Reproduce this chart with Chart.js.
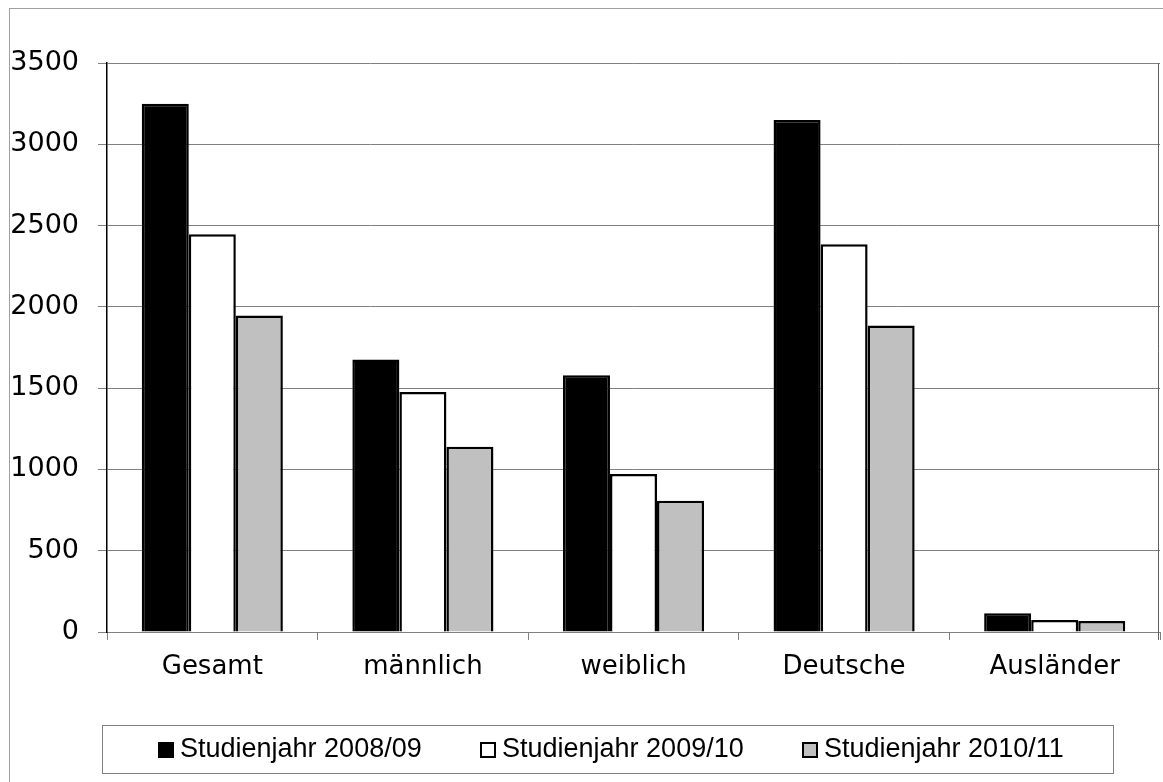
<!DOCTYPE html>
<html>
<head>
<meta charset="utf-8">
<script src="https://cdn.jsdelivr.net/npm/chart.js@4"></script>
<style>
  body { margin: 0; background: #fff; overflow: hidden; }
  #wrap { position: relative; width: 1163px; height: 782px; }
</style>
</head>
<body>
<div id="wrap"><canvas id="chart"></canvas></div>
<script>
const categories = ['Gesamt', 'männlich', 'weiblich', 'Deutsche', 'Ausländer'];
const seriesLabels = ['Studienjahr 2008/09', 'Studienjahr 2009/10', 'Studienjahr 2010/11'];
const v0809 = [3250, 1676, 1579, 3149, 115];
const v0910 = [2446, 1477, 972, 2385, 74];
const v1011 = [1947, 1140, 807, 1885, 68];
const yTicks = [0, 500, 1000, 1500, 2000, 2500, 3000, 3500];
const fills = ['#000000', '#ffffff', '#c0c0c0'];

// outer frame, right plot border and boxed legend
const framePlugin = {
  id: 'frame',
  afterDraw(chart) {
    const ctx = chart.ctx;
    const a = chart.chartArea;
    ctx.save();
    ctx.strokeStyle = '#a0a0a0';
    ctx.lineWidth = 1;
    ctx.strokeRect(9.5, 8.5, 2000, 2000);

    // right edge of the plot area
    const rx = Math.floor(a.right) - 1.5;
    ctx.strokeStyle = '#606060';
    ctx.lineWidth = 1;
    ctx.beginPath();
    ctx.moveTo(rx, a.top);
    ctx.lineTo(rx, a.bottom + 8);
    ctx.stroke();

    // legend box
    ctx.strokeStyle = '#808080';
    ctx.strokeRect(102.5, 725.5, 1011, 48);
    ctx.font = '27px "Liberation Sans"';
    ctx.textBaseline = 'middle';
    const starts = [158, 480, 802];
    chart.data.datasets.forEach((ds, i) => {
      const x = starts[i];
      ctx.fillStyle = ds.backgroundColor;
      ctx.fillRect(x, 742, 16, 16);
      ctx.strokeStyle = '#000';
      ctx.lineWidth = 2;
      ctx.strokeRect(x + 1, 743, 14, 14);
      ctx.fillStyle = '#000';
      ctx.fillText(ds.label, x + 22, 750);
    });
    ctx.restore();
  }
};

new Chart(document.getElementById('chart'), {
  type: 'bar',
  data: {
    labels: categories,
    datasets: [
      { label: seriesLabels[0], data: v0809, backgroundColor: fills[0] },
      { label: seriesLabels[1], data: v0910, backgroundColor: fills[1] },
      { label: seriesLabels[2], data: v1011, backgroundColor: fills[2] }
    ]
  },
  options: {
    responsive: true,
    maintainAspectRatio: false,
    animation: false,
    layout: { padding: { top: 63, right: 3, bottom: 0, left: 0 } },
    datasets: {
      bar: {
        borderColor: '#000',
        borderWidth: 2.5,
        categoryPercentage: 0.67,
        barPercentage: 1
      }
    },
    plugins: {
      legend: { display: false },
      tooltip: { enabled: false }
    },
    scales: {
      x: {
        afterFit(scale) { scale.height = 150; },
        grid: {
          offset: true,
          drawOnChartArea: false,
          tickColor: '#808080',
          tickLength: 8
        },
        border: { color: '#808080', width: 1 },
        ticks: {
          color: '#000',
          padding: 12,
          font: { family: 'DejaVu Sans', size: 26 }
        }
      },
      y: {
        min: 0,
        max: 3500,
        afterFit(scale) { scale.width = 107; },
        afterBuildTicks(scale) { scale.ticks = yTicks.map(v => ({ value: v })); },
        grid: { color: '#808080', tickColor: '#808080', tickLength: 9 },
        border: { color: '#000', width: 1.5 },
        ticks: {
          color: '#000',
          padding: 19,
          font: { family: 'DejaVu Sans', size: 27 },
          callback: v => String(v)
        }
      }
    }
  },
  plugins: [framePlugin]
});
</script>
</body>
</html>
